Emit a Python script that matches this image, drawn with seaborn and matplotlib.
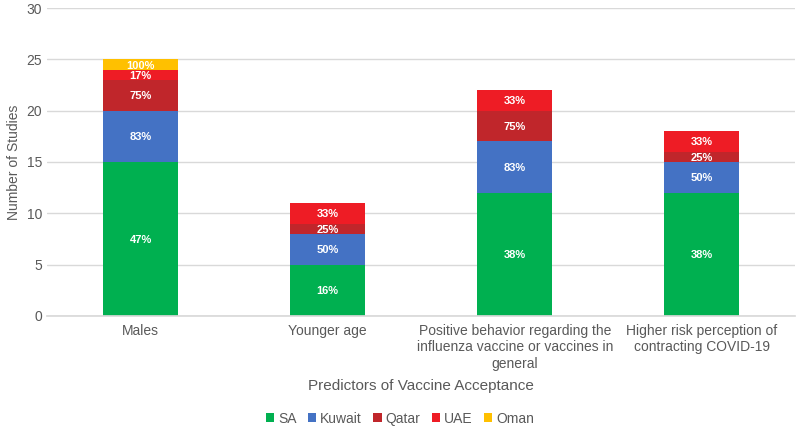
import matplotlib
matplotlib.use("Agg")
import matplotlib.pyplot as plt
import seaborn as sns
import numpy as np
import pandas as pd

categories = ["Males", "Younger age",
              "Positive behavior regarding the\ninfluenza vaccine or vaccines in\ngeneral",
              "Higher risk perception of\ncontracting COVID-19"]
series = ["SA", "Kuwait", "Qatar", "UAE", "Oman"]
sa = [15, 5, 12, 12]
kuwait = [5, 3, 5, 3]
qatar = [3, 1, 3, 1]
uae = [1, 2, 2, 2]
oman = [1, 0, 0, 0]
sa_lbl = ["47%", "16%", "38%", "38%"]
kuwait_lbl = ["83%", "50%", "83%", "50%"]
qatar_lbl = ["75%", "25%", "75%", "25%"]
uae_lbl = ["17%", "33%", "33%", "33%"]
oman_lbl = ["100%", "", "", ""]

colors = ["#00B050", "#4472C4", "#C0262B", "#EE1C25", "#FFC000"]

sns.set_theme(style="white")
plt.rcParams['font.family'] = ['Liberation Sans', 'DejaVu Sans']

fig = plt.figure(figsize=(8, 4.28), dpi=100)
ax = fig.add_axes([0.059, 0.262, 0.935, 0.719])

vals = [sa, kuwait, qatar, uae, oman]
lbls = [sa_lbl, kuwait_lbl, qatar_lbl, uae_lbl, oman_lbl]
bottom = np.zeros(len(categories))
for name, v, lab, c in zip(series, vals, lbls, colors):
    df = pd.DataFrame({"cat": categories, "val": v})
    sns.barplot(data=df, x="cat", y="val", bottom=bottom, color=c, width=0.4,
                ax=ax, label=name, saturation=1, linewidth=0)
    for i, (val, t) in enumerate(zip(v, lab)):
        if val > 0 and t:
            ax.text(i, bottom[i] + val / 2, t, ha="center", va="center_baseline",
                    color="white", fontsize=8, fontweight="bold")
    bottom = bottom + np.array(v)

ax.set_ylim(0, 30)
ax.set_yticks(range(0, 31, 5))
ax.yaxis.grid(True, color="#D9D9D9", linewidth=1)
ax.set_axisbelow(True)
for s in ["top", "right", "left"]:
    ax.spines[s].set_visible(False)
ax.spines["bottom"].set_color("#D9D9D9")
ax.tick_params(axis="both", colors="#595959", labelsize=10, length=0)
ax.tick_params(axis="x", pad=6)
ax.set_ylabel("Number of Studies", color="#595959", fontsize=10)
ax.set_xlabel("Predictors of Vaccine Acceptance", color="#595959", fontsize=11, labelpad=6)
ax.set_xlim(-0.5, 3.5)

handles, labels = ax.get_legend_handles_labels()
if ax.get_legend() is not None:
    ax.get_legend().remove()
leg = fig.legend(handles, labels, loc="center", bbox_to_anchor=(0.5, 0.022), ncol=5,
                 frameon=False, fontsize=10, handlelength=0.6, handleheight=0.6,
                 handletextpad=0.3, columnspacing=0.8)
for t in leg.get_texts():
    t.set_color("#595959")

fig.savefig("out.png", dpi=100)
